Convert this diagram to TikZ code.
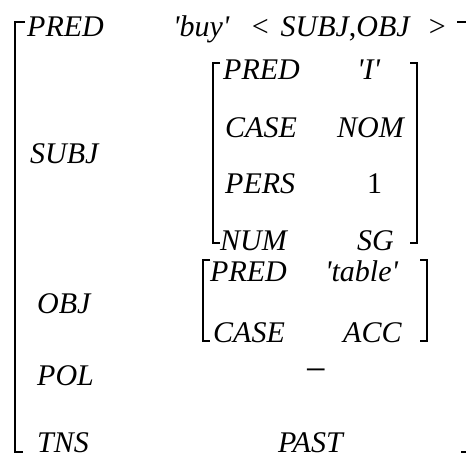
\documentclass[tikz,border=0pt]{standalone}
\usepackage{fontspec}
\setmainfont{Liberation Serif}
\newcommand\avmfont{\fontsize{30}{36}\selectfont\itshape}
\newcommand\q{\textquotesingle}
\begin{document}
\begin{tikzpicture}[x=1pt,y=-1pt,
  lbl/.style={anchor=base west, inner sep=0pt, font=\avmfont},
  brk/.style={line width=2.2pt, line cap=butt, line join=miter}]
\useasboundingbox (0,0) rectangle (466,460);
\clip (0,0) rectangle (466,460);
% outer bracket
\draw[brk] (25,22) -- (15,22) -- (15,452) -- (23,452);
\draw[brk] (457,22) -- (468,22) -- (468,452) -- (461,452);
% row 1
\node[lbl] (pred) at (27,37) {PRED};
\node[lbl] (predv) at (173,37) {\q buy\q\hspace{22pt}\textup{<}\hspace{12pt}SUBJ\textup{,}OBJ\hspace{18pt}\textup{>}};
% SUBJ
\node[lbl] (subj) at (30,163) {SUBJ};
\draw[brk] (220,63) -- (213,63) -- (213,243) -- (220,243);
\draw[brk] (410,63) -- (417,63) -- (417,243) -- (410,243);
\node[lbl] (spred) at (223,80) {PRED};
\node[lbl] (spredv) at (357,80) {\q I\q};
\node[lbl] (scase) at (225,137) {CASE};
\node[lbl] (scasev) at (337,137) {NOM};
\node[lbl] (spers) at (225,193) {PERS};
\node[lbl] (spersv) at (367,193) {\textup{1}};
\node[lbl] (snum) at (220,250) {NUM};
\node[lbl] (snumv) at (357,250) {SG};
% OBJ
\node[lbl] (obj) at (37,313) {OBJ};
\draw[brk] (210,260) -- (203,260) -- (203,341) -- (210,341);
\draw[brk] (420,260) -- (427,260) -- (427,341) -- (420,341);
\node[lbl] (opred) at (210,281) {PRED};
\node[lbl] (opredv) at (325,281) {\q table\q};
\node[lbl] (ocase) at (213,342) {CASE};
\node[lbl] (ocasev) at (343,342) {ACC};
% POL
\node[lbl] (pol) at (37,385) {POL};
\node[font=\fontsize{38}{40}\selectfont, inner sep=0pt] (polv) at (316,376) {−};
% TNS
\node[lbl] (tns) at (37,452) {TNS};
\node[lbl] (tnsv) at (278,452) {PAST};
\end{tikzpicture}
\end{document}
